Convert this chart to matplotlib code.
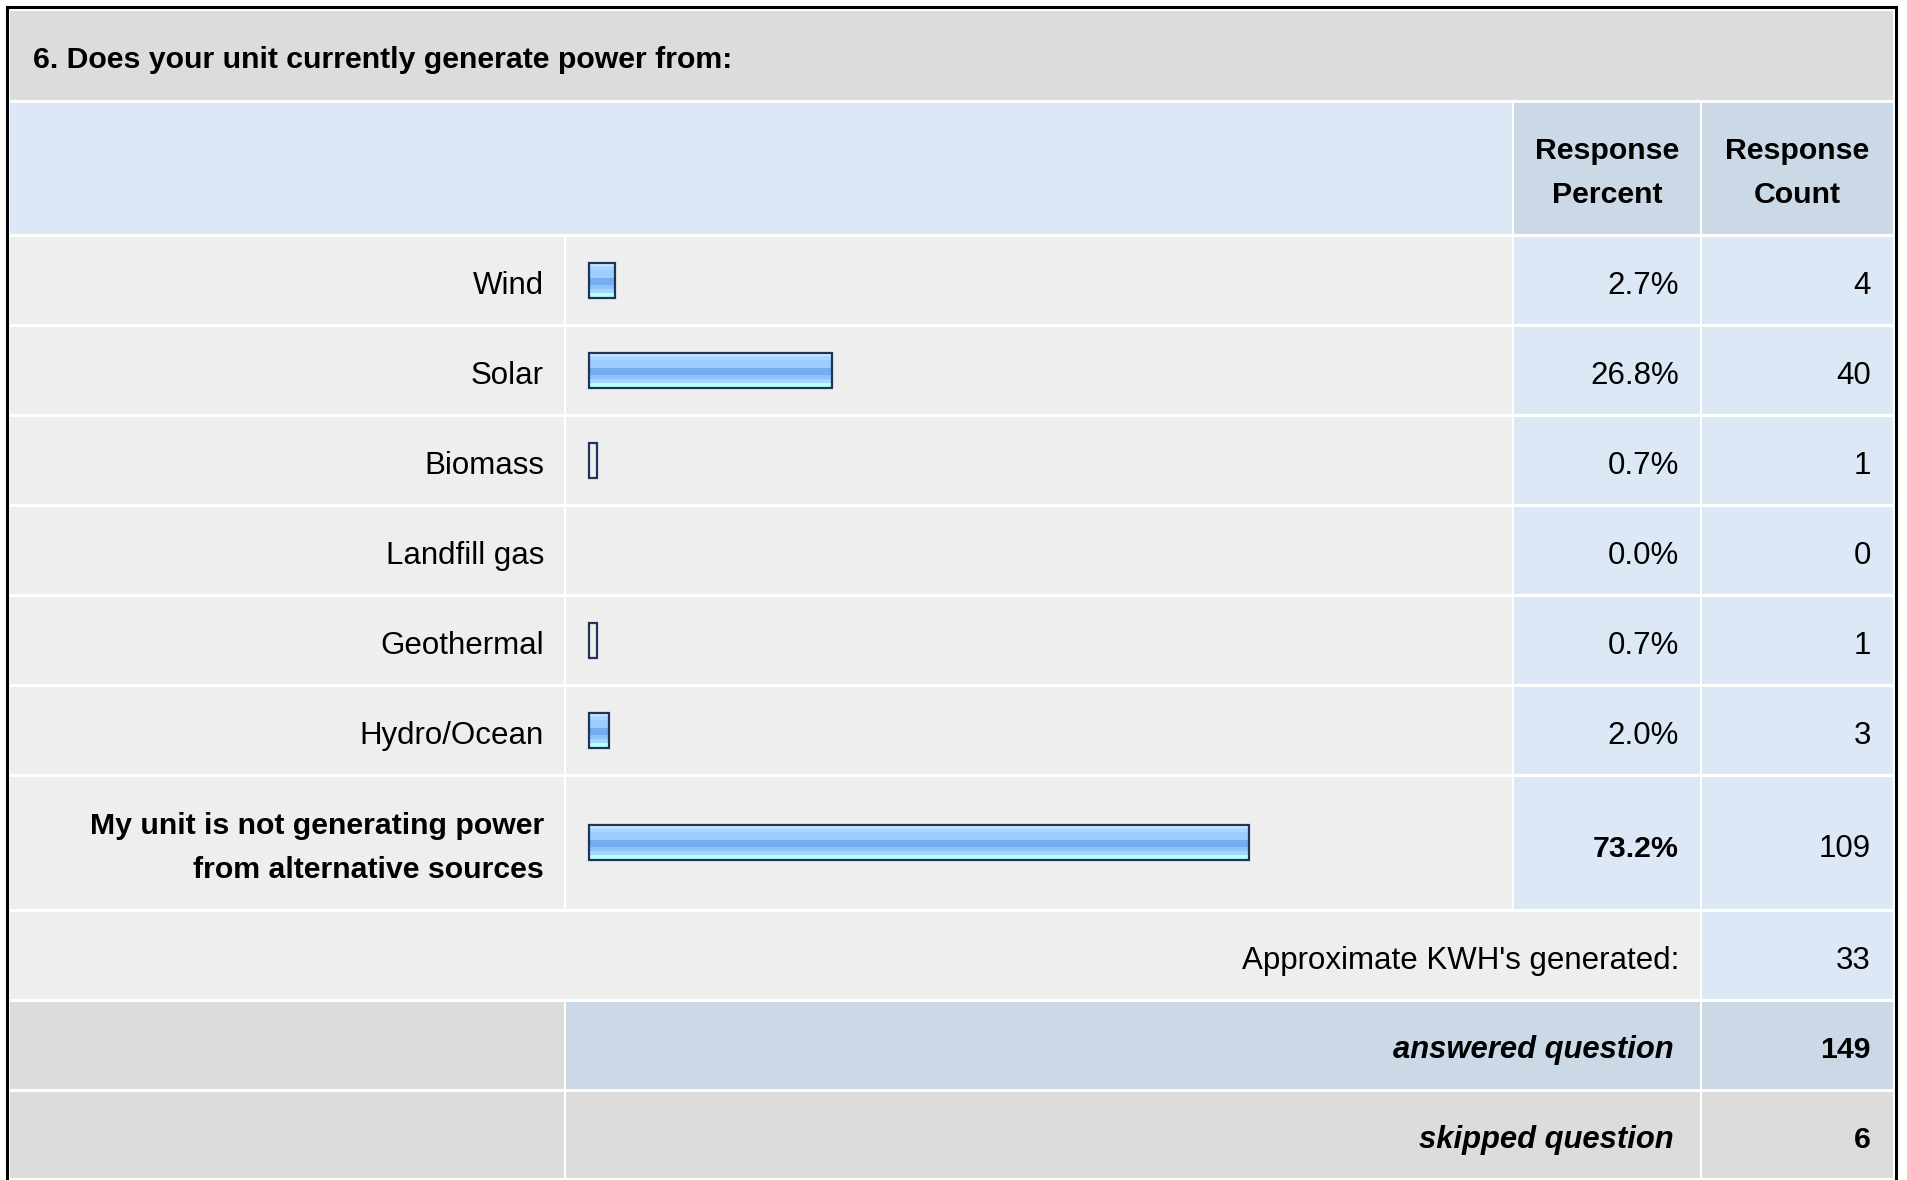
import numpy as np
import matplotlib
matplotlib.use("Agg")
import matplotlib.pyplot as plt
from matplotlib.patches import Rectangle
from matplotlib.colors import to_rgb

# ---------------- data ----------------
title = "6. Does your unit currently generate power from:"
categories = ["Wind", "Solar", "Biomass", "Landfill gas", "Geothermal",
              "Hydro/Ocean", "My unit is not generating power\nfrom alternative sources"]
percents = [2.7, 26.8, 0.7, 0.0, 0.7, 2.0, 73.2]
counts = [4, 40, 1, 0, 1, 3, 109]
kwh_label = "Approximate KWH's generated:"
kwh_count = 33
answered = 149
skipped = 6
header_percent = "Response\nPercent"
header_count = "Response\nCount"

# ---------------- layout (pixels) ----------------
W, H = 1907, 1180
fig = plt.figure(figsize=(W / 100, H / 100), dpi=100)
ax = fig.add_axes([0, 0, 1, 1])
ax.set_xlim(0, W)
ax.set_ylim(H, 0)
ax.axis("off")

FONT = "Liberation Sans"
FS = 22.5      # regular text
FSB = 21.8     # bold text
LS = 1.72

X0, X1 = 10, 1893          # inner left/right
XL = 566                   # label | bar
XP = 1514                  # bar | percent
XC = 1702                  # percent | count
GAP = 2.5
DY = 6                     # text baseline nudge

GRAY = "#dcdcdc"
ROWBG = "#eeeeee"
LBLUE = "#dce8f6"
DBLUE = "#cbd8e6"

def cell(x0, x1, y0, y1, color):
    ax.add_patch(Rectangle((x0, y0), x1 - x0 - GAP, y1 - y0 - GAP,
                           facecolor=color, edgecolor="none", zorder=1))

# outer border
ax.plot([7, 7], [H + 5, 7], color="black", lw=2.2, zorder=5, solid_capstyle="projecting")
ax.plot([7, 1896], [7, 7], color="black", lw=2.2, zorder=5, solid_capstyle="projecting")
ax.plot([1896, 1896], [7, H + 5], color="black", lw=2.2, zorder=5, solid_capstyle="projecting")

# title band
cell(X0, X1 + GAP, 11, 102.5, GRAY)
ax.text(33, 60, title, fontsize=FSB, fontweight="bold", family=FONT,
        ha="left", va="center", zorder=3)

# header row
cell(X0, XP, 102.5, 236.5, LBLUE)
cell(XP, XC, 102.5, 236.5, DBLUE)
cell(XC, X1 + GAP, 102.5, 236.5, DBLUE)
ax.text((XP + XC - GAP) / 2, 173, header_percent, fontsize=FSB, fontweight="bold",
        family=FONT, ha="center", va="center", linespacing=LS, zorder=3)
ax.text((XC + X1) / 2, 173, header_count, fontsize=FSB, fontweight="bold",
        family=FONT, ha="center", va="center", linespacing=LS, zorder=3)

# data rows
row_edges = [236.5, 326.5, 416.5, 506.5, 596.5, 686.5, 776.5, 911.5]
centers = []
for i, cat in enumerate(categories):
    y0, y1 = row_edges[i], row_edges[i + 1]
    cy = (y0 + y1 - GAP) / 2
    centers.append(cy)
    cell(X0, XL, y0, y1, ROWBG)
    cell(XL, XP, y0, y1, ROWBG)
    cell(XP, XC, y0, y1, LBLUE)
    cell(XC, X1 + GAP, y0, y1, LBLUE)
    last = i == len(categories) - 1
    ax.text(544, cy + DY - (1 if last else 0), cat, fontsize=FSB if last else FS,
            family=FONT, fontweight="bold" if last else "normal",
            ha="right", va="center", linespacing=LS, zorder=3)
    ax.text(1679, cy + DY, f"{percents[i]:.1f}%", fontsize=FSB if last else FS,
            family=FONT, fontweight="bold" if last else "normal",
            ha="right", va="center", zorder=3)
    ax.text(1871, cy + DY, f"{counts[i]}", fontsize=FS, family=FONT,
            ha="right", va="center", zorder=3)

# bars
PX_PER_PCT = 9.0
BAR_LEFT = 589
BAR_H = 35
pct = np.array(percents)
cy_arr = np.array(centers)
mask = pct > 0
bars = ax.barh(cy_arr[mask], pct[mask] * PX_PER_PCT + 1.5, left=BAR_LEFT,
               height=BAR_H, color="none", edgecolor="#1d3557", linewidth=1.6,
               zorder=4)

stripes = (["#cde8ff"] * 3 + ["#aad6ff"] * 3 + ["#9dcdfd"] * 8 +
           ["#76acf2"] * 6 + ["#8ec3fa"] * 4 + ["#a6d6fd"] * 3 + ["#b8ffff"] * 5)
grad = np.array([to_rgb(c) for c in stripes])[:, None, :]
for b, p in zip(bars, pct[mask]):
    x, y = b.get_x(), b.get_y()
    w, h = b.get_width(), b.get_height()
    if p < 1.0:
        continue  # tiny bars show only their outline
    im = ax.imshow(grad, extent=[x, x + w, y + h, y], aspect="auto",
                   interpolation="nearest", zorder=3.5)
    im.set_clip_path(b)

# KWH row
cell(X0, XC, 911.5, 1001.5, ROWBG)
cell(XC, X1 + GAP, 911.5, 1001.5, LBLUE)
ax.text(1679, 955 + DY, kwh_label, fontsize=FS, family=FONT, ha="right", va="center", zorder=3)
ax.text(1871, 955 + DY, f"{kwh_count}", fontsize=FS, family=FONT, ha="right", va="center", zorder=3)

# answered row
cell(X0, XL, 1001.5, 1091.5, GRAY)
cell(XL, XC, 1001.5, 1091.5, DBLUE)
cell(XC, X1 + GAP, 1001.5, 1091.5, DBLUE)
ax.text(1674, 1044 + DY, "answered question", fontsize=22.3, family=FONT, fontweight="bold",
        style="italic", ha="right", va="center", zorder=3)
ax.text(1871, 1044 + DY, f"{answered}", fontsize=FSB, family=FONT, fontweight="bold",
        ha="right", va="center", zorder=3)

# skipped row
cell(X0, XL, 1091.5, 1180.5, GRAY)
cell(XL, XC, 1091.5, 1180.5, GRAY)
cell(XC, X1 + GAP, 1091.5, 1180.5, GRAY)
ax.text(1674, 1134 + DY, "skipped question", fontsize=22.3, family=FONT, fontweight="bold",
        style="italic", ha="right", va="center", zorder=3)
ax.text(1871, 1134 + DY, f"{skipped}", fontsize=FSB, family=FONT, fontweight="bold",
        ha="right", va="center", zorder=3)

fig.savefig("out.png", dpi=100, facecolor="white")
